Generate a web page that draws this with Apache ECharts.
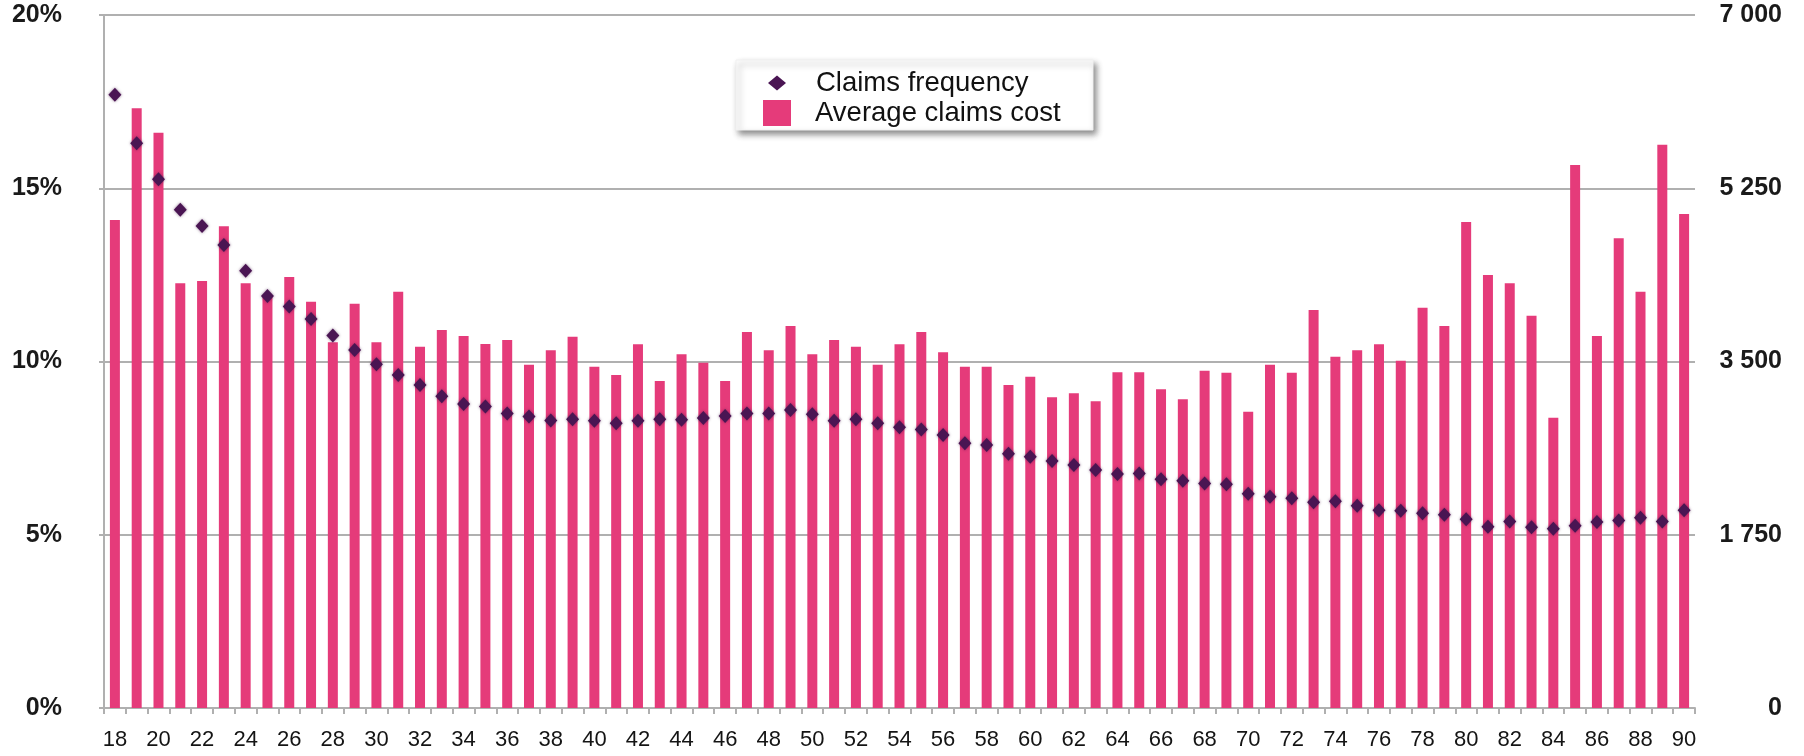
<!DOCTYPE html>
<html>
<head>
<meta charset="utf-8">
<title>Claims frequency and average claims cost by age</title>
<script src="https://cdn.jsdelivr.net/npm/echarts@6/dist/echarts.min.js"></script>
<style>
	html, body { margin: 0; padding: 0; background: #fff; }
	#main { width: 1804px; height: 756px; }
</style>
</head>
<body>
<div id="main"></div>
<script>
// ages 18..90
var ages = [];
for (var a = 18; a <= 90; a++) ages.push(String(a));

// average claims cost (right axis)
var avgCost = [
	4929, 6058, 5811, 4290, 4313, 4866, 4290, 4162, 4354, 4104,
	3694, 4084, 3694, 4205, 3650, 3818, 3758, 3677, 3717, 3468,
	3613, 3751, 3448, 3364, 3673, 3303, 3573, 3488, 3303, 3798,
	3613, 3859, 3573, 3717, 3650, 3468, 3673, 3798, 3593, 3448,
	3448, 3263, 3347, 3138, 3179, 3098, 3391, 3391, 3219, 3118,
	3407, 3387, 2993, 3468, 3387, 4020, 3549, 3613, 3673, 3508,
	4044, 3859, 4909, 4374, 4290, 3963, 2932, 5485, 3758, 4744,
	4205, 5690, 4990
];

// claims frequency in % (left axis)
var claimsFreq = [
	17.70, 16.30, 15.26, 14.38, 13.91, 13.36, 12.62, 11.89, 11.59, 11.23,
	10.75, 10.33, 9.92, 9.61, 9.32, 9.00, 8.77, 8.70, 8.50, 8.41,
	8.30, 8.33, 8.29, 8.22, 8.29, 8.33, 8.32, 8.37, 8.43, 8.50,
	8.50, 8.60, 8.48, 8.29, 8.33, 8.22, 8.10, 8.04, 7.88, 7.64,
	7.59, 7.34, 7.25, 7.13, 7.01, 6.87, 6.75, 6.77, 6.60, 6.56,
	6.48, 6.46, 6.18, 6.10, 6.05, 5.94, 5.97, 5.84, 5.71, 5.69,
	5.62, 5.58, 5.45, 5.23, 5.38, 5.22, 5.17, 5.26, 5.37, 5.41,
	5.49, 5.38, 5.71
];

var pink = '#e53b7a';
var plum = '#4a1553';
var grey = '#b0b0b0';
var font = '"Liberation Sans", Arial, sans-serif';

var myChart = echarts.init(document.getElementById('main'));
var option = {
	animation: false,
	backgroundColor: '#fff',
	grid: {
		left: 104,
		right: 109,
		top: 15,
		bottom: 48,
		containLabel: false
	},
	graphic: [{
		type: 'rect',
		z: 5,
		shape: { x: 736, y: 60, width: 357, height: 70 },
		style: {
			fill: '#fff',
			stroke: '#f0f0f0',
			lineWidth: 1,
			shadowBlur: 6,
			shadowOffsetX: 3,
			shadowOffsetY: 4,
			shadowColor: 'rgba(0,0,0,0.45)'
		}
	}],
	legend: [{
		z: 10,
		left: 768,
		top: 69,
		padding: 0,
		itemWidth: 18,
		itemHeight: 15,
		data: [{ name: 'Claims frequency', icon: 'diamond' }],
		textStyle: { fontFamily: font, fontSize: 27.5, color: '#111', padding: [0, 0, 0, 25] }
	}, {
		z: 10,
		left: 763,
		top: 99,
		padding: 0,
		itemWidth: 28,
		itemHeight: 26,
		data: [{ name: 'Average claims cost', icon: 'rect' }],
		textStyle: { fontFamily: font, fontSize: 27.5, color: '#111', padding: [0, 0, 0, 19] }
	}],
	xAxis: {
		type: 'category',
		data: ages,
		boundaryGap: true,
		axisLine: { lineStyle: { color: grey, width: 2 } },
		axisTick: { show: true, interval: 0, length: 6, lineStyle: { color: grey, width: 2 } },
		axisLabel: {
			interval: 1,
			margin: 21,
			fontFamily: font,
			fontSize: 22,
			color: '#141414'
		},
		splitLine: { show: false }
	},
	yAxis: [{
		type: 'value',
		min: 0,
		max: 20,
		interval: 5,
		position: 'left',
		axisLine: { show: true, lineStyle: { color: grey, width: 2 } },
		axisTick: { show: true, length: 5, lineStyle: { color: grey, width: 2 } },
		axisLabel: {
			margin: 42,
			fontFamily: font,
			fontSize: 25,
			fontWeight: 'bold',
			color: '#1a1a1a',
			formatter: '{value}%'
		},
		splitLine: { show: true, lineStyle: { color: grey, width: 2 } }
	}, {
		type: 'value',
		min: 0,
		max: 7000,
		interval: 1750,
		position: 'right',
		axisLine: { show: false },
		axisTick: { show: false },
		axisLabel: {
			margin: 87,
			align: 'right',
			fontFamily: font,
			fontSize: 25,
			fontWeight: 'bold',
			color: '#1a1a1a',
			formatter: function(v) {
				return String(v).replace(/\B(?=(\d{3})+(?!\d))/g, ' ');
			}
		},
		splitLine: { show: false }
	}],
	series: [{
		name: 'Average claims cost',
		type: 'bar',
		yAxisIndex: 1,
		barWidth: 10,
		itemStyle: { color: pink },
		data: avgCost,
		z: 2
	}, {
		name: 'Claims frequency',
		type: 'scatter',
		yAxisIndex: 0,
		symbol: 'diamond',
		symbolSize: [13, 14],
		itemStyle: {
			color: plum,
			opacity: 1,
			shadowBlur: 3,
			shadowColor: 'rgba(60,10,60,0.55)'
		},
		data: claimsFreq,
		z: 3
	}]
};
myChart.setOption(option);
</script>
</body>
</html>
